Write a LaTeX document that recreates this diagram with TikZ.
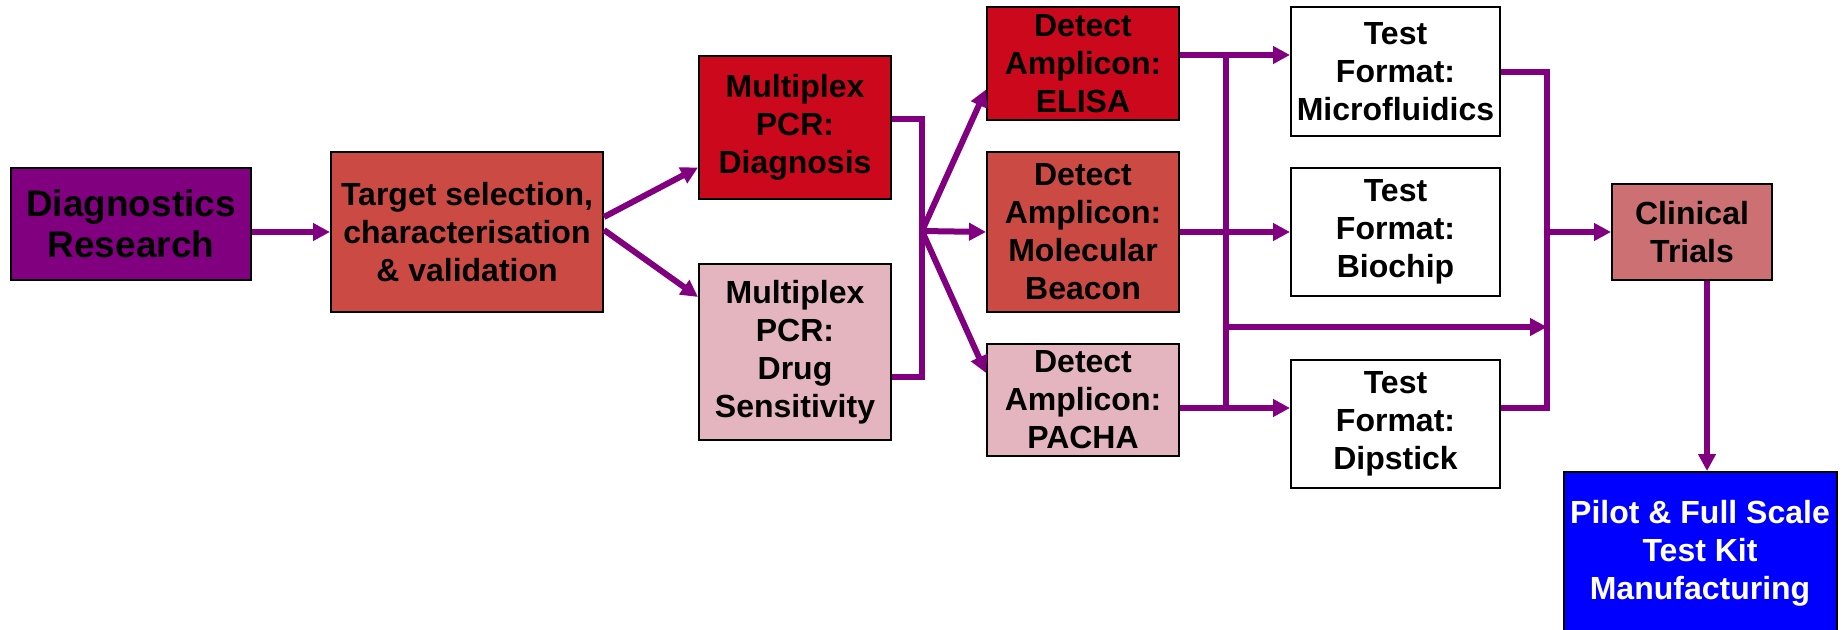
\documentclass[tikz,border=0pt]{standalone}
\usepackage{fontspec}
\setmainfont{Liberation Sans}
\usetikzlibrary{arrows.meta}
\definecolor{plum}{RGB}{128,0,128}
\definecolor{brick}{RGB}{204,74,68}
\definecolor{crimson}{RGB}{204,8,28}
\definecolor{blush}{RGB}{228,181,190}
\definecolor{rose}{RGB}{204,112,116}
\begin{document}
\begin{tikzpicture}[x=0.5pt,y=-0.5pt,
 box/.style={draw=black,line width=1pt,align=center,inner sep=0pt,font=\fontsize{16}{19}\selectfont\bfseries},
 link/.style={color=plum,line width=3pt},
 arr/.style={link,-{Triangle[length=8.5pt,width=8.5pt]}}]
\useasboundingbox (0,0) rectangle (1845,630);
\clip (0,0) rectangle (1845,630);

\node[box,fill=plum,minimum width=120pt,minimum height=56pt,font=\fontsize{18.5}{20.5}\selectfont\bfseries] (diag) at (131,224) {Diagnostics\\Research};
\node[box,fill=brick,minimum width=136pt,minimum height=80pt] (target) at (467,232) {Target selection,\\characterisation\\\& validation};
\node[box,fill=crimson,minimum width=96pt,minimum height=71.5pt] (mpxdiag) at (795,127.5) {Multiplex\\PCR:\\Diagnosis};
\node[box,fill=blush,minimum width=96pt,minimum height=88pt] (mpxdrug) at (795,352) {Multiplex\\PCR:\\Drug\\Sensitivity};
\node[box,fill=crimson,minimum width=96pt,minimum height=56.5pt] (elisa) at (1083,63.5) {Detect\\Amplicon:\\ELISA};
\node[box,fill=brick,minimum width=96pt,minimum height=80pt] (molec) at (1083,232) {Detect\\Amplicon:\\Molecular\\Beacon};
\node[box,fill=blush,minimum width=96pt,minimum height=56pt] (pacha) at (1083,400) {Detect\\Amplicon:\\PACHA};
\node[box,fill=white,minimum width=104.5pt,minimum height=64.5pt] (micro) at (1395.5,71.5) {Test\\Format:\\Microfluidics};
\node[box,fill=white,minimum width=104.5pt,minimum height=64pt] (biochip) at (1395.5,232) {Test\\Format:\\Biochip};
\node[box,fill=white,minimum width=104.5pt,minimum height=64pt] (dipstick) at (1395.5,424) {Test\\Format:\\Dipstick};
\node[box,fill=rose,minimum width=80pt,minimum height=48pt] (clin) at (1692,232) {Clinical\\Trials};
\node[box,fill=blue,text=white,minimum width=136.5pt,minimum height=81pt] (pilot) at (1700,553) {Pilot \& Full Scale\\Test Kit\\Manufacturing};

\coordinate (fan) at (922,231);
\coordinate (tt) at (1226,55);  \coordinate (tm) at (1226,327);  \coordinate (tb) at (1226,408);
\coordinate (cn) at (1547,72);  \coordinate (cm) at (1547,327);  \coordinate (cs) at (1547,408);
\coordinate (ca) at ([xshift=7.5pt]clin.south);

\draw[link] ([yshift=4.25pt]mpxdiag.east) -| (fan) |- ([yshift=-12.5pt]mpxdrug.east);
\draw[link] (tt) -- (tb);
\draw[link] (micro.east |- cn) -- (cn) -- (cs) -- (dipstick.east |- cs);

\path[arr] (diag.east |- target) edge (target.west)
 ([yshift=7.5pt]target.east) edge ([yshift=-20pt]mpxdiag.west)
 ([yshift=1pt]target.east) edge ([yshift=27.5pt]mpxdrug.west)
 (fan) edge ([yshift=-13pt]elisa.west) edge (molec.west) edge ([yshift=13.5pt]pacha.west)
 (elisa.east |- tt) edge (micro.west |- tt)
 (molec.east) edge (biochip.west)
 (pacha.east |- tb) edge (dipstick.west |- tb)
 (tm) edge (cm)
 (cn |- clin.west) edge (clin.west)
 (ca) edge (ca |- pilot.north);
\end{tikzpicture}
\end{document}
